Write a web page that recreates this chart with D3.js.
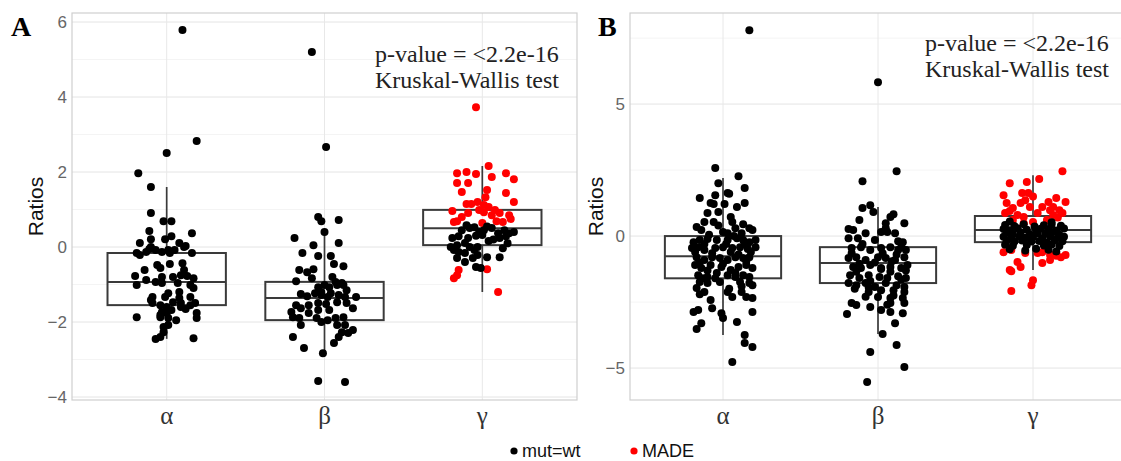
<!DOCTYPE html>
<html>
<head>
<meta charset="utf-8">
<script src="https://cdn.jsdelivr.net/npm/d3@7"></script>
<style>
  html, body { margin: 0; padding: 0; background: #fff; }
  svg { display: block; }
</style>
</head>
<body>
<svg id="chart" width="1121" height="461"></svg>
<script>
// Groups on the x axis
const categories = ["α", "β", "γ"];
const legendLabels = ["mut=wt", "MADE"];
const pLabel = "p-value = <2.2e-16";
const testLabel = "Kruskal-Wallis test";

// Axis ticks
const ticksA = [-4, -2, 0, 2, 4, 6];
const ticksB = [-5, 0, 5];

// Box summaries per group: [lower whisker, Q1, median, Q3, upper whisker]
const boxA = [
  [-2.45, -1.55, -0.93, -0.16, 1.6],
  [-2.83, -1.95, -1.36, -0.93, 0.4],
  [-1.2, 0.05, 0.5, 0.99, 2.16]
];
const boxB = [
  [-3.75, -1.6, -0.76, 0.0, 2.2],
  [-3.71, -1.78, -1.02, -0.42, 1.1],
  [-1.29, -0.23, 0.23, 0.76, 2.3]
];

// Observations: [ratio, jitter within group]
const aAlphaWt = [
  [5.79,0.10],[2.83,0.19],[2.51,0.0],[1.97,-0.18],[1.6,-0.10],[0.91,-0.10],[0.69,-0.02],[0.69,0.03],
  [0.43,-0.11],[0.37,0.16],[0.11,-0.17],[0.21,-0.10],[0.21,-0.01],[0.29,0.03],[0.11,0.08],[0.03,0.12],
  [-0.16,-0.19],[-0.21,-0.17],[-0.05,-0.11],[-0.08,-0.07],[-0.13,-0.03],[-0.08,0.01],[-0.08,0.05],[-0.16,0.16],
  [-0.48,-0.06],[-0.56,-0.04],[-0.45,0.02],[-0.43,0.10],[-0.61,-0.14],
  [-0.77,-0.20],[-1.01,-0.19],[-0.88,-0.13],[-0.93,-0.07],[-0.8,-0.03],[-0.8,0.04],[-0.75,0.09],[-0.77,0.13],
  [-0.83,0.17],[-1.01,0.15],[-0.96,0.07],[-1.09,0.17],
  [-1.33,-0.09],[-1.23,0.01],[-1.2,0.08],[-1.33,0.15],[-1.49,-0.09],[-1.55,-0.04],[-1.6,0.0],[-1.47,0.04],
  [-1.49,0.09],[-1.55,0.15],[-1.49,0.18],
  [-1.73,-0.03],[-1.68,0.03],[-1.65,0.12],[-1.76,0.19],[-1.87,-0.19],[-1.87,-0.04],[-1.89,0.01],[-1.95,0.06],[-1.89,0.19],
  [-2.08,0.01],[-2.27,-0.02],[-2.4,-0.04],[-2.45,-0.07],[-2.43,0.17],
  [0.0,-0.10],[0.0,0.11],[-0.13,-0.13],[-0.16,0.02],[-0.61,0.11],[-0.96,-0.03],[-1.41,-0.10],[-1.33,-0.01],
  [-1.36,0.08],[-1.6,0.09],[-1.81,-0.04],[-1.76,0.0],[-2.13,-0.02]
];
const aBetaWt = [
  [5.2,-0.08],[2.67,0.01],[0.8,-0.04],[0.69,-0.02],[0.72,0.09],[0.4,0.0],[0.24,-0.19],[0.05,-0.07],[0.11,0.09],
  [-0.16,-0.14],[-0.24,-0.04],[-0.24,0.04],[-0.45,0.06],[-0.51,0.12],[-0.61,-0.16],[-0.67,-0.11],[-0.59,-0.07],
  [-0.91,-0.18],[-0.83,-0.08],[-1.07,-0.04],[-1.01,0.0],[-1.07,0.03],[-1.01,0.08],[-1.01,0.12],[-1.15,0.14],
  [-1.23,-0.06],[-1.28,-0.02],[-1.23,0.04],[-1.28,0.09],[-1.33,0.13],[-1.33,0.2],[-1.31,-0.11],
  [-1.55,-0.1],[-1.49,-0.04],[-1.52,0.01],[-1.47,0.08],[-1.49,0.14],[-1.63,0.18],[-1.55,-0.18],[-1.63,-0.15],
  [-1.73,-0.21],[-1.87,-0.2],[-1.89,-0.16],[-1.76,-0.1],[-1.89,-0.05],[-2.0,-0.02],[-1.89,0.07],[-1.87,0.12],
  [-2.08,-0.15],[-2.08,0.08],[-2.08,0.13],
  [-2.27,0.11],[-2.29,0.15],[-2.21,0.18],[-2.4,0.09],[-2.56,0.06],[-2.4,-0.2],[-2.69,-0.13],[-2.83,-0.01],
  [-3.57,-0.04],[-3.6,0.13],
  [-0.93,0.07],[-0.96,0.11],[-1.2,-0.02],[-1.33,0.02],[-1.68,-0.04],[-1.68,0.03],[-1.25,-0.15],[-0.8,0.05],[-1.95,0.02]
];
const aGammaMade = [
  [3.73,-0.04],[2.16,0.04],[1.97,-0.16],[2.0,-0.1],[1.95,-0.04],[1.97,0.15],[1.81,0.2],[1.71,-0.16],[1.71,-0.09],[1.87,0.06],
  [1.47,-0.13],[1.52,0.03],[1.33,0.02],[1.44,0.15],[1.2,0.2],[1.15,-0.1],[1.15,-0.07],[1.2,-0.03],[1.12,0.01],[1.07,0.04],[0.99,0.08],
  [0.96,-0.19],[0.8,-0.13],[0.91,-0.09],[0.99,-0.02],[0.93,0.01],[0.85,0.06],[0.91,0.11],[0.85,0.17],[0.75,0.18],
  [0.69,-0.16],[0.67,-0.18],[0.69,0.09],[0.64,0.0],[0.67,0.13],
  [-0.59,0.03],[-0.61,-0.15],[-0.75,-0.16],[-0.83,-0.18],[-1.2,0.1]
];
const aGammaWt = [
  [0.45,-0.13],[0.51,-0.08],[0.53,-0.05],[0.4,-0.02],[0.45,0.01],[0.51,0.06],[0.37,0.1],[0.45,0.14],[0.37,0.17],[0.4,0.2],
  [0.24,-0.19],[0.29,-0.15],[0.24,-0.09],[0.32,0.0],[0.16,0.04],[0.24,0.11],[0.29,0.15],
  [0.0,-0.2],[0.05,-0.16],[0.11,-0.11],[0.0,-0.08],[-0.08,-0.05],[0.0,-0.03],[-0.08,-0.18],[-0.13,-0.15],
  [-0.03,0.13],[-0.27,0.11],[-0.27,0.03],[-0.21,-0.03],[-0.16,-0.11],[-0.29,-0.16],[-0.4,-0.11],[-0.29,-0.06],
  [-0.53,-0.04],[-0.56,-0.01],
  [0.55,0.03],[0.3,-0.04],[0.2,0.07],[0.58,-0.1],[0.1,0.16]
];

const bAlphaWt = [
  [7.8,0.17],[2.58,-0.05],[2.27,0.1],[2.0,-0.03],[1.82,0.14],
  [1.44,-0.15],[1.55,-0.05],[1.63,0.03],[1.6,0.04],
  [1.25,-0.08],[1.21,-0.06],[1.25,0.14],[1.21,0.01],
  [0.87,-0.1],[0.91,-0.03],[1.1,0.09],
  [0.53,-0.12],[0.53,-0.06],[0.72,0.05],[0.34,-0.17],[0.45,0.13],[0.53,0.06],
  [0.23,-0.14],[0.15,0.0],[0.3,0.08],[0.3,0.17],[0.23,0.19],[0.11,0.03],[0.11,0.12],
  [-0.23,-0.19],[-0.15,-0.15],[-0.11,-0.1],[-0.15,-0.04],[-0.15,0.03],[-0.08,0.09],[-0.15,0.13],[-0.23,0.17],[-0.15,0.21],
  [-0.45,-0.2],[-0.42,-0.16],[-0.53,-0.12],[-0.45,-0.05],[-0.42,0.0],[-0.45,0.06],[-0.42,0.11],[-0.49,0.16],[-0.42,0.21],
  [-0.8,-0.17],[-0.91,-0.12],[-0.8,-0.07],[-0.83,-0.02],[-0.91,0.03],[-0.8,0.08],[-0.83,0.13],[-0.8,0.17],
  [-1.1,-0.18],[-1.21,-0.14],[-1.1,-0.08],[-1.17,-0.01],[-1.29,0.05],[-1.17,0.1],[-1.1,0.15],[-1.21,0.19],
  [-1.48,-0.16],[-1.55,-0.1],[-1.4,-0.04],[-1.48,0.03],[-1.55,0.08],[-1.48,0.13],[-1.55,0.17],
  [-1.74,-0.15],[-1.78,-0.1],[-1.74,-0.02],[-1.74,0.11],[-1.78,0.17],[-1.86,0.19],
  [-1.97,-0.17],[-2.2,-0.15],[-2.12,-0.12],[-2.12,0.03],[-2.31,0.06],[-2.12,0.12],[-2.31,0.15],[-2.35,0.19],[-2.42,-0.08],
  [-2.88,-0.19],[-2.8,-0.16],[-2.73,-0.07],[-2.92,-0.01],[-3.1,0.0],[-3.26,0.09],[-2.88,0.19],
  [-3.3,-0.14],[-3.52,-0.17],[-3.75,0.14],[-4.05,0.14],[-4.2,0.19],[-4.77,0.06],
  [-0.3,-0.12],[-0.6,0.05],[-0.65,-0.07],[-0.7,0.1],[-0.95,0.15],[-1.0,-0.15],[-1.05,0.0],[-1.4,0.08],
  [-1.3,-0.1],[-0.6,0.18],[-0.6,-0.18],[-0.3,0.02],[0.4,-0.03],[-1.9,0.12],[-1.6,-0.05],[0.0,0.07],
  [0.05,-0.09],[-0.3,0.14],[-1.6,-0.13],[-2.0,0.04]
];
const bBetaWt = [
  [5.83,0.0],[2.46,0.12],[2.08,-0.1],
  [1.06,-0.1],[1.17,-0.05],[0.91,-0.03],
  [0.83,0.1],[0.72,0.08],[0.49,0.17],[0.49,0.05],[0.61,-0.12],[0.27,-0.19],[0.23,-0.16],[0.11,-0.08],
  [0.15,0.02],[0.15,0.06],[0.11,0.11],[-0.08,-0.19],[-0.08,-0.13],[-0.15,-0.02],[-0.23,0.16],[-0.42,0.15],
  [-0.45,-0.17],[-0.42,-0.11],[-0.53,-0.05],[-0.45,0.02],[-0.42,0.08],[-0.53,0.13],[-0.53,0.18],
  [-0.83,-0.19],[-0.8,-0.14],[-0.91,-0.08],[-0.8,0.0],[-0.83,0.05],[-0.91,0.11],[-0.8,0.17],
  [-1.17,-0.16],[-1.21,-0.11],[-1.1,-0.05],[-1.21,0.02],[-1.17,0.08],[-1.21,0.15],[-1.1,0.19],
  [-1.48,-0.18],[-1.59,-0.12],[-1.48,-0.06],[-1.55,0.01],[-1.59,0.06],[-1.52,0.13],[-1.59,0.18],
  [-1.78,-0.19],[-1.86,-0.14],[-1.78,-0.08],[-1.93,-0.02],[-1.78,0.05],[-1.86,0.12],[-1.93,0.17],
  [-2.12,-0.06],[-2.05,0.02],[-2.05,0.1],[-2.12,0.17],[-2.31,0.0],[-2.35,0.08],[-2.35,0.16],
  [-2.54,-0.17],[-2.61,-0.14],[-2.69,-0.05],[-2.8,0.02],[-2.54,0.08],[-2.54,0.17],[-2.92,0.16],[-2.95,-0.2],[-2.88,0.08],
  [-3.3,0.11],[-3.71,0.03],[-4.13,0.12],[-4.39,-0.05],[-4.96,0.17],[-5.53,-0.07],
  [-0.3,-0.1],[-0.7,0.12],[-1.0,-0.02],[-1.35,0.08],[-1.35,-0.14],[-1.65,0.15],[-1.7,-0.05],[-0.65,0.03],
  [-0.65,-0.17],[-1.3,0.18],[-2.25,0.1],[-2.3,-0.08],[0.3,0.05],[-1.05,-0.12],[-0.2,0.13],[-1.25,0.02],
  [-1.95,-0.06],[-0.95,0.09],[-2.0,-0.15],[-2.6,0.06]
];
const bGammaMade = [
  [2.46,0.19],[2.16,0.04],[2.0,-0.15],[2.05,-0.04],[1.55,-0.19],[1.63,-0.07],[1.63,-0.03],[1.29,0.1],[1.44,0.15],
  [1.29,0.21],[1.1,0.13],
  [1.25,-0.17],[1.06,-0.13],[1.25,-0.08],[1.36,-0.05],[1.1,-0.02],[1.1,0.06],[0.98,0.11],[0.98,0.17],
  [0.87,-0.18],[0.8,-0.1],[0.72,-0.06],[0.87,0.03],[0.8,0.13],[0.87,0.19],[0.61,-0.13],[0.53,0.0],[0.61,0.09],[0.49,-0.06],
  [-0.61,-0.19],[-0.53,-0.14],[-0.64,-0.05],[-0.64,0.03],[-0.61,0.06],[-0.72,0.11],[-0.64,0.15],[-0.72,0.21],
  [-0.91,0.11],[-1.02,0.06],
  [-0.98,-0.1],[-1.17,-0.08],[-1.33,-0.14],[-1.67,0.0],[-1.86,-0.01],[-2.08,-0.14],[-1.29,-0.15],
  [0.7,0.16],[1.5,0.0],[0.95,-0.15],[-0.8,0.18],[-0.75,0.15]
];
const bGammaWt = [
  [0.42,-0.18],[0.38,-0.12],[0.45,-0.06],[0.36,0.01],[0.41,0.07],[0.44,0.12],[0.39,0.18],
  [0.27,-0.19],[0.22,-0.15],[0.3,-0.1],[0.24,-0.04],[0.2,0.02],[0.28,0.05],[0.25,0.1],[0.21,0.15],[0.29,0.2],
  [0.12,-0.17],[0.08,-0.13],[0.14,-0.08],[0.06,-0.02],[0.11,0.03],[0.09,0.08],[0.15,0.13],[0.05,0.17],
  [-0.03,-0.19],[-0.07,-0.14],[-0.02,-0.09],[-0.06,-0.05],[-0.04,0.0],[-0.08,0.06],[-0.01,0.11],[-0.06,0.16],[-0.03,0.2],
  [-0.18,-0.17],[-0.22,-0.12],[-0.17,-0.07],[-0.21,-0.01],[-0.19,0.04],[-0.24,0.09],[-0.16,0.14],[-0.2,0.19],
  [-0.33,-0.18],[-0.37,-0.13],[-0.34,-0.04],[-0.36,0.07],[-0.32,0.12],[-0.38,0.17],
  [-0.5,-0.15],[-0.55,-0.05],[-0.48,0.02],[-0.52,0.1],[-0.58,0.15],
  [0.55,-0.15],[0.52,0.12]
];

const colorWt = "#000000";
const colorMade = "#ff0000";

const svg = d3.select("#chart");

function drawPanel(cfg) {
  const g = svg.append("g");
  const x = d3.scalePoint().domain(categories).range([cfg.left, cfg.right]).padding(0.6);
  const y = d3.scaleLinear().domain(cfg.yDomain).range([cfg.bottom, cfg.top]);
  const step = x.step();

  // minor grid lines halfway between major ticks
  const minor = [];
  for (let i = 0; i < cfg.ticks.length - 1; i++) minor.push((cfg.ticks[i] + cfg.ticks[i + 1]) / 2);
  const lo = cfg.ticks[0] - (cfg.ticks[1] - cfg.ticks[0]) / 2;
  const hi = cfg.ticks[cfg.ticks.length - 1] + (cfg.ticks[1] - cfg.ticks[0]) / 2;
  [lo, hi].forEach(v => { if (v > cfg.yDomain[0] && v < cfg.yDomain[1]) minor.push(v); });

  g.selectAll(".minor").data(minor).join("line")
    .attr("x1", cfg.left).attr("x2", cfg.right)
    .attr("y1", d => y(d)).attr("y2", d => y(d))
    .attr("stroke", "#f1f1f1").attr("stroke-width", 0.8);

  g.selectAll(".major").data(cfg.ticks).join("line")
    .attr("x1", cfg.left).attr("x2", cfg.right)
    .attr("y1", d => y(d)).attr("y2", d => y(d))
    .attr("stroke", "#e4e4e4").attr("stroke-width", 1);

  g.selectAll(".vgrid").data(categories).join("line")
    .attr("x1", d => x(d)).attr("x2", d => x(d))
    .attr("y1", cfg.top).attr("y2", cfg.bottom)
    .attr("stroke", "#e8e8e8").attr("stroke-width", 1);

  g.append("rect")
    .attr("x", cfg.left).attr("y", cfg.top)
    .attr("width", cfg.right - cfg.left).attr("height", cfg.bottom - cfg.top)
    .attr("fill", "none").attr("stroke", "#cfcfcf").attr("stroke-width", 1.2);

  // y tick labels
  g.selectAll(".ytick").data(cfg.ticks).join("text")
    .attr("x", cfg.left - 5).attr("y", d => y(d))
    .attr("dy", "0.35em").attr("text-anchor", "end")
    .attr("font-family", "Liberation Sans, Arial, sans-serif")
    .attr("font-size", 17).attr("fill", "#666")
    .text(d => d < 0 ? "\u2212" + Math.abs(d) : d);

  // x tick labels
  g.selectAll(".xtick").data(categories).join("text")
    .attr("x", d => x(d)).attr("y", 424)
    .attr("text-anchor", "middle")
    .attr("font-family", "Liberation Serif, Times New Roman, serif")
    .attr("font-size", 25).attr("fill", "#333")
    .text(d => d);

  // y axis title
  g.append("text")
    .attr("transform", `translate(${cfg.titleX},${(cfg.top + cfg.bottom) / 2}) rotate(-90)`)
    .attr("text-anchor", "middle")
    .attr("font-family", "Liberation Sans, Arial, sans-serif")
    .attr("font-size", 21).attr("fill", "#111")
    .text("Ratios");

  // boxes
  const bw = step * 0.75;
  const boxes = g.selectAll(".box").data(cfg.boxes.map((b, i) => ({ cat: categories[i], s: b })))
    .join("g");
  boxes.append("line")
    .attr("x1", d => x(d.cat)).attr("x2", d => x(d.cat))
    .attr("y1", d => y(d.s[3])).attr("y2", d => y(d.s[4]))
    .attr("stroke", "#3a3a3a").attr("stroke-width", 1.7);
  boxes.append("line")
    .attr("x1", d => x(d.cat)).attr("x2", d => x(d.cat))
    .attr("y1", d => y(d.s[1])).attr("y2", d => y(d.s[0]))
    .attr("stroke", "#3a3a3a").attr("stroke-width", 1.7);
  boxes.append("rect")
    .attr("x", d => x(d.cat) - bw / 2).attr("width", bw)
    .attr("y", d => y(d.s[3])).attr("height", d => y(d.s[1]) - y(d.s[3]))
    .attr("fill", "none").attr("stroke", "#3a3a3a").attr("stroke-width", 2);
  boxes.append("line")
    .attr("x1", d => x(d.cat) - bw / 2).attr("x2", d => x(d.cat) + bw / 2)
    .attr("y1", d => y(d.s[2])).attr("y2", d => y(d.s[2]))
    .attr("stroke", "#3a3a3a").attr("stroke-width", 2);

  // jittered points
  cfg.points.forEach(set => {
    g.append("g").selectAll("circle").data(set.values).join("circle")
      .attr("cx", d => x(set.cat) + d[1] * step)
      .attr("cy", d => y(d[0]))
      .attr("r", 4)
      .attr("fill", set.color);
  });

  // test annotation
  const ann = g.append("text")
    .attr("font-family", "Liberation Serif, Times New Roman, serif")
    .attr("font-size", 24).attr("fill", "#222");
  ann.append("tspan").attr("x", cfg.annX).attr("y", cfg.annY).text(pLabel);
  ann.append("tspan").attr("x", cfg.annX).attr("y", cfg.annY + 26).text(testLabel);

  // panel letter
  g.append("text")
    .attr("x", cfg.letterX).attr("y", 36)
    .attr("font-family", "Liberation Serif, Times New Roman, serif")
    .attr("font-weight", "bold").attr("font-size", 28).attr("fill", "#000")
    .text(cfg.letter);
}

drawPanel({
  letter: "A", letterX: 11,
  left: 72, right: 577, top: 13, bottom: 400,
  yDomain: [-4.08, 6.24], ticks: ticksA, titleX: 43,
  boxes: boxA, annX: 375, annY: 62,
  points: [
    { cat: "α", color: colorWt, values: aAlphaWt },
    { cat: "β", color: colorWt, values: aBetaWt },
    { cat: "γ", color: colorMade, values: aGammaMade },
    { cat: "γ", color: colorWt, values: aGammaWt }
  ]
});

drawPanel({
  letter: "B", letterX: 598,
  left: 630, right: 1126, top: 13, bottom: 400,
  yDomain: [-6.21, 8.45], ticks: ticksB, titleX: 603,
  boxes: boxB, annX: 925, annY: 51,
  points: [
    { cat: "α", color: colorWt, values: bAlphaWt },
    { cat: "β", color: colorWt, values: bBetaWt },
    { cat: "γ", color: colorMade, values: bGammaMade },
    { cat: "γ", color: colorWt, values: bGammaWt }
  ]
});

// legend
const legend = svg.append("g");
const legendItems = [
  { label: legendLabels[0], color: colorWt, x: 514 },
  { label: legendLabels[1], color: colorMade, x: 634 }
];
legendItems.forEach(it => {
  legend.append("circle").attr("cx", it.x).attr("cy", 451).attr("r", 3.6).attr("fill", it.color);
  legend.append("text").attr("x", it.x + 8).attr("y", 457)
    .attr("font-family", "Liberation Sans, Arial, sans-serif")
    .attr("font-size", 18).attr("fill", "#111").text(it.label);
});
</script>
</body>
</html>
